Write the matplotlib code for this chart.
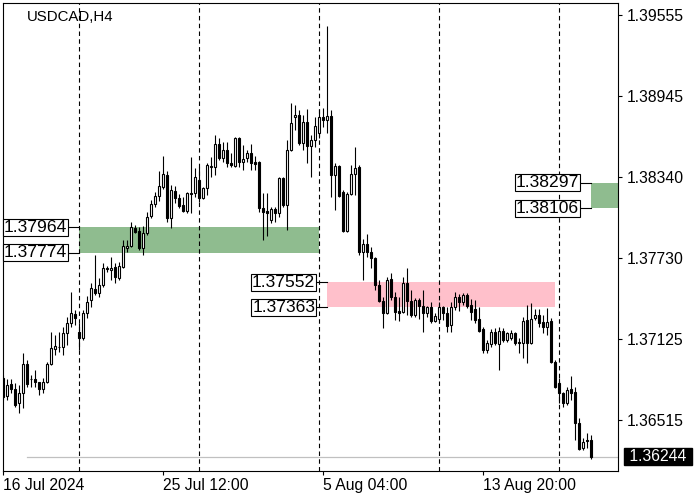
"""
Gráfico de velas USDCAD H4 con zonas de oferta / demanda
(estilo MetaTrader). Salida: out.png (700x500).
"""

import matplotlib
matplotlib.use('Agg')
import matplotlib.pyplot as plt
from matplotlib.patches import Rectangle


# ----------------------------------------------------------------
# 1. DATOS
# ----------------------------------------------------------------
SIMBOLO = 'USDCAD,H4'

aperturas = [
    1.36833, 1.36698, 1.36788, 1.36751, 1.36646, 1.36721, 1.36938, 1.36826, 1.36826, 1.36803,
    1.36751, 1.36803, 1.36938, 1.37051, 1.37066, 1.37066, 1.37171, 1.37246, 1.37313, 1.37178,
    1.37133, 1.37321, 1.37418, 1.37501, 1.37471, 1.37531, 1.37658, 1.37643, 1.37666, 1.37583,
    1.37666, 1.37808, 1.37823, 1.37958, 1.37936, 1.37808, 1.37921, 1.38048, 1.38138, 1.38198,
    1.38266, 1.38356, 1.38033, 1.38236, 1.38183, 1.38131, 1.38086, 1.38221, 1.38221, 1.38318,
    1.38183, 1.38258, 1.38416, 1.38416, 1.38588, 1.38483, 1.38543, 1.38446, 1.38423, 1.38633,
    1.38453, 1.38483, 1.38521, 1.38453, 1.38453, 1.38108, 1.38086, 1.38018, 1.38101, 1.38071,
    1.38333, 1.38131, 1.38543, 1.38791, 1.38806, 1.38596, 1.38753, 1.38573, 1.38618, 1.38670,
    1.38791, 1.38768, 1.38798, 1.38356, 1.38423, 1.38228, 1.37936, 1.38213, 1.38363, 1.38416,
    1.37778, 1.37838, 1.37778, 1.37733, 1.37531, 1.37411, 1.37321, 1.37576, 1.37441, 1.37336,
    1.37328, 1.37546, 1.37411, 1.37306, 1.37418, 1.37373, 1.37321, 1.37366, 1.37261, 1.37276,
    1.37366, 1.37321, 1.37231, 1.37366, 1.37441, 1.37403, 1.37456, 1.37381, 1.37351, 1.37276,
    1.37201, 1.37043, 1.37088, 1.37178, 1.37088, 1.37186, 1.37118, 1.37133, 1.37171, 1.37103,
    1.37096, 1.37268, 1.37096, 1.37283, 1.37306, 1.37253, 1.37216, 1.37261, 1.36953, 1.36796,
    1.36721, 1.36646, 1.36751, 1.36728, 1.36496, 1.36308, 1.36368, 1.36368,
]
maximos = [
    1.36856, 1.36826, 1.36826, 1.36796, 1.36781, 1.37021, 1.36968, 1.36856, 1.36893, 1.36806,
    1.36833, 1.36953, 1.37178, 1.37156, 1.37178, 1.37216, 1.37291, 1.37478, 1.37343, 1.37246,
    1.37343, 1.37448, 1.37546, 1.37756, 1.37583, 1.37696, 1.37673, 1.37741, 1.37696, 1.37703,
    1.37868, 1.37868, 1.38003, 1.37981, 1.37966, 1.37973, 1.38078, 1.38168, 1.38228, 1.38386,
    1.38498, 1.38386, 1.38281, 1.38273, 1.38213, 1.38191, 1.38228, 1.38491, 1.38408, 1.38416,
    1.38266, 1.38446, 1.38491, 1.38656, 1.38633, 1.38603, 1.38603, 1.38521, 1.38641, 1.38641,
    1.38581, 1.38543, 1.38588, 1.38498, 1.38461, 1.38221, 1.38221, 1.38116, 1.38116, 1.38341,
    1.38341, 1.38618, 1.38896, 1.38881, 1.38843, 1.38806, 1.38851, 1.38656, 1.38791, 1.38851,
    1.38858, 1.39473, 1.38843, 1.38446, 1.38431, 1.38243, 1.38228, 1.38431, 1.38566, 1.38431,
    1.37876, 1.37913, 1.37816, 1.37741, 1.37568, 1.37441, 1.37591, 1.37621, 1.37478, 1.37441,
    1.37591, 1.37658, 1.37493, 1.37433, 1.37433, 1.37493, 1.37373, 1.37403, 1.37321, 1.37403,
    1.37373, 1.37366, 1.37403, 1.37478, 1.37463, 1.37471, 1.37471, 1.37426, 1.37418, 1.37366,
    1.37216, 1.37118, 1.37201, 1.37208, 1.37216, 1.37208, 1.37178, 1.37193, 1.37178, 1.37133,
    1.37291, 1.37381, 1.37396, 1.37351, 1.37351, 1.37306, 1.37358, 1.37283, 1.36968, 1.36833,
    1.36728, 1.36766, 1.36848, 1.36766, 1.36533, 1.36383, 1.36421, 1.36406,
]
minimos = [
    1.36668, 1.36668, 1.36721, 1.36616, 1.36571, 1.36608, 1.36766, 1.36766, 1.36766, 1.36706,
    1.36721, 1.36796, 1.36931, 1.37006, 1.37028, 1.37006, 1.37081, 1.37216, 1.37231, 1.37043,
    1.37118, 1.37283, 1.37366, 1.37456, 1.37441, 1.37516, 1.37628, 1.37568, 1.37546, 1.37568,
    1.37658, 1.37778, 1.37816, 1.37921, 1.37793, 1.37756, 1.37906, 1.38033, 1.38116, 1.38161,
    1.38251, 1.38003, 1.37958, 1.38146, 1.38108, 1.38078, 1.38071, 1.38071, 1.38191, 1.38153,
    1.38176, 1.38206, 1.38341, 1.38356, 1.38468, 1.38453, 1.38416, 1.38416, 1.38416, 1.38416,
    1.38393, 1.38453, 1.38393, 1.38393, 1.38078, 1.37868, 1.37898, 1.37996, 1.38003, 1.38041,
    1.38116, 1.37943, 1.38536, 1.38693, 1.38581, 1.38543, 1.38446, 1.38341, 1.38566, 1.38633,
    1.38716, 1.38671, 1.38191, 1.38093, 1.38191, 1.37928, 1.37928, 1.38206, 1.38206, 1.37756,
    1.37568, 1.37741, 1.37658, 1.37493, 1.37403, 1.37208, 1.37313, 1.37418, 1.37268, 1.37261,
    1.37321, 1.37306, 1.37291, 1.37291, 1.37276, 1.37178, 1.37291, 1.37246, 1.37253, 1.37246,
    1.37268, 1.37178, 1.37178, 1.37343, 1.37336, 1.37381, 1.37358, 1.37268, 1.37246, 1.37178,
    1.37021, 1.37021, 1.37066, 1.37081, 1.36893, 1.37103, 1.37103, 1.37118, 1.37081, 1.37021,
    1.36983, 1.36946, 1.37088, 1.37268, 1.37216, 1.37171, 1.37156, 1.36946, 1.36758, 1.36646,
    1.36616, 1.36631, 1.36668, 1.36368, 1.36293, 1.36293, 1.36308, 1.36226,
]
cierres = [
    1.36691, 1.36781, 1.36751, 1.36631, 1.36721, 1.36938, 1.36788, 1.36822, 1.36803, 1.36751,
    1.36803, 1.36938, 1.37058, 1.37073, 1.37062, 1.37171, 1.37246, 1.37321, 1.37283, 1.37133,
    1.37321, 1.37403, 1.37508, 1.37471, 1.37531, 1.37658, 1.37654, 1.37658, 1.37591, 1.37673,
    1.37823, 1.37823, 1.37966, 1.37928, 1.37808, 1.37921, 1.38041, 1.38138, 1.38198, 1.38273,
    1.38363, 1.38033, 1.38243, 1.38183, 1.38123, 1.38086, 1.38221, 1.38213, 1.38341, 1.38183,
    1.38258, 1.38431, 1.38423, 1.38588, 1.38483, 1.38543, 1.38446, 1.38431, 1.38633, 1.38453,
    1.38476, 1.38521, 1.38446, 1.38438, 1.38108, 1.38078, 1.38071, 1.38101, 1.38071, 1.38333,
    1.38131, 1.38543, 1.38746, 1.38806, 1.38596, 1.38753, 1.38573, 1.38618, 1.38723, 1.38791,
    1.38768, 1.38798, 1.38356, 1.38423, 1.38198, 1.37936, 1.38213, 1.38363, 1.38408, 1.37778,
    1.37838, 1.37778, 1.37733, 1.37531, 1.37411, 1.37321, 1.37568, 1.37441, 1.37328, 1.37321,
    1.37546, 1.37411, 1.37306, 1.37418, 1.37373, 1.37321, 1.37366, 1.37261, 1.37298, 1.37366,
    1.37321, 1.37223, 1.37366, 1.37441, 1.37403, 1.37456, 1.37373, 1.37328, 1.37268, 1.37186,
    1.37043, 1.37096, 1.37178, 1.37096, 1.37186, 1.37118, 1.37171, 1.37171, 1.37096, 1.37096,
    1.37261, 1.37096, 1.37276, 1.37306, 1.37246, 1.37216, 1.37253, 1.36953, 1.36766, 1.36721,
    1.36646, 1.36743, 1.36721, 1.36496, 1.36301, 1.36353, 1.36361, 1.36244,
]

precios_eje = [1.39555, 1.38945, 1.38340, 1.37730, 1.37125, 1.36515]
barras_fecha = [0, 40, 80, 120]
etiquetas_fecha = ['16 Jul 2024', '25 Jul 12:00', '5 Aug 04:00', '13 Aug 20:00']
separadores_semana = [19, 49, 79, 109, 139]

# zonas: (barra inicial, barra final o None = hasta el borde, precio bajo, precio alto)
zona_verde_1 = (19, 79, 1.37774, 1.37964)
zona_rosa = (81, 138, 1.37363, 1.37552)
zona_verde_2 = (147, None, 1.38106, 1.38297)


# ----------------------------------------------------------------
# 2. DIBUJO
# ----------------------------------------------------------------
FUENTE = 'Liberation Sans'
VERDE = '#8FBC8F'
ROSA = '#FFC0CB'
X_MAX = 153.7


def dibujar_velas(ax):
    n = len(cierres)
    x = list(range(n))
    ax.vlines(x, minimos, maximos, color='black', linewidth=0.8, zorder=3)
    bases = [min(o, c) for o, c in zip(aperturas, cierres)]
    alturas = [max(abs(c - o), 1e-6) for o, c in zip(aperturas, cierres)]
    colores = ['white' if c >= o else 'black' for o, c in zip(aperturas, cierres)]
    ax.bar(x, alturas, bottom=bases, width=0.5, color=colores,
           edgecolor='black', linewidth=0.8, zorder=4)


def dibujar_zona(ax, zona, color):
    inicio, fin, bajo, alto = zona
    if fin is None:
        fin = X_MAX
    ax.add_patch(Rectangle((inicio, bajo), fin - inicio, alto - bajo,
                           facecolor=color, edgecolor='none', zorder=1))
    # etiquetas de precio con su línea de unión
    for precio in (alto, bajo):
        ax.plot([inicio - 2.6, inicio], [precio, precio], color='black',
                linewidth=0.8, zorder=5, clip_on=False)
        ax.annotate(f'{precio:.5f}', xy=(inicio - 2.6, precio), xytext=(-1.2, 0),
                    textcoords='offset points', ha='right', va='center',
                    fontsize=12.6, family=FUENTE, zorder=6,
                    bbox=dict(boxstyle='square,pad=0.06', facecolor='white',
                              edgecolor='black', linewidth=0.8))


def main():
    fig = plt.figure(figsize=(7, 5), dpi=100)
    ax = fig.add_axes([3 / 700, 29 / 500, 615 / 700, 468 / 500])
    ax.set_xlim(-0.1, X_MAX)
    ax.set_ylim(1.361355, 1.396455)

    dibujar_zona(ax, zona_verde_1, VERDE)
    dibujar_zona(ax, zona_rosa, ROSA)
    dibujar_zona(ax, zona_verde_2, VERDE)

    for s in separadores_semana:
        ax.axvline(s, color='black', linewidth=0.8, linestyle=(0, (4, 3)), zorder=2)

    # línea del último precio (bid)
    ultimo = cierres[-1]
    ax.axhline(ultimo, xmin=24 / 615, color='#C0C0C0', linewidth=0.9, zorder=2)

    dibujar_velas(ax)

    ax.text(0.039, 0.970, SIMBOLO, transform=ax.transAxes, va='center',
            fontsize=10.8, family=FUENTE)

    # ejes
    ax.yaxis.tick_right()
    ax.set_yticks(precios_eje)
    ax.set_yticklabels([f'{p:.5f}' for p in precios_eje], family=FUENTE, fontsize=11.3)
    ax.set_xticks(barras_fecha)
    ax.set_xticklabels(etiquetas_fecha, family=FUENTE, fontsize=11.3, ha='left')
    ax.tick_params(axis='y', direction='out', length=3, width=0.8, pad=3)
    ax.tick_params(axis='x', direction='out', length=3, width=0.8, pad=2)
    for lado in ax.spines.values():
        lado.set_linewidth(0.8)

    ax.text(1.0118, ultimo, f' {ultimo:.5f} ', transform=ax.get_yaxis_transform(),
            ha='left', va='center', color='white', fontsize=11.3, family=FUENTE,
            bbox=dict(boxstyle='square,pad=0.05', facecolor='black', edgecolor='black'),
            clip_on=False)

    fig.savefig('out.png', dpi=100)
    plt.close(fig)


if __name__ == '__main__':
    main()
